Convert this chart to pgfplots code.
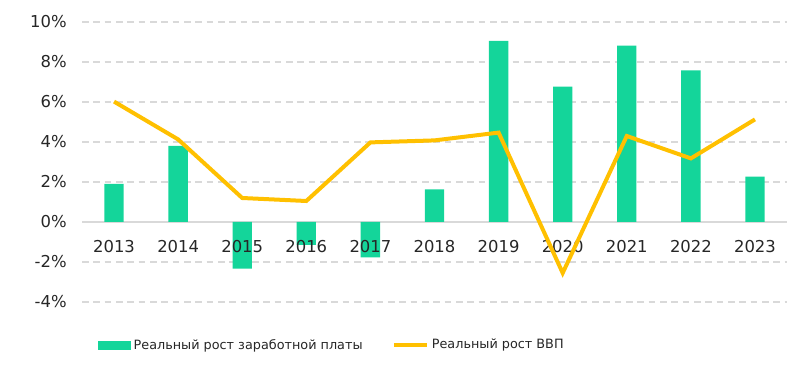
\documentclass[border=0pt]{standalone}
\usepackage{fontspec}
\setmainfont{DejaVu Sans}
\usepackage{pgfplots}
\pgfplotsset{compat=1.18}
\definecolor{barg}{RGB}{20,213,154}
\definecolor{lineg}{RGB}{255,192,0}
\definecolor{txt}{RGB}{38,38,38}
\definecolor{gridc}{RGB}{217,217,217}
\pgfplotsset{common/.style={
  at={(61.5pt,54.75pt)}, anchor=south west,
  scale only axis, width=528.75pt, height=210pt,
  xmin=-0.5, xmax=10.5, ymin=-4, ymax=10,
  axis x line*=middle, axis y line*=left,
  axis line style={draw=none},
  xtick={0,...,10},
  ytick={-4,-2,0,2,4,6,8,10},
  major tick length=0pt,
  clip=false,
}}
\begin{document}
\begin{tikzpicture}
\useasboundingbox (0,0) rectangle (600pt,281.25pt);
\begin{axis}[common,
  ymajorgrids,
  major grid style={gridc, dash pattern=on 5pt off 3.5pt, line width=1.1pt},
  xticklabels={}, yticklabels={},
]
\draw[gridc, line width=1.3pt] (axis cs:-0.5,0) -- (axis cs:10.5,0);
\addplot[ybar, bar width=14.5pt, fill=barg, draw=none]
  coordinates {(0,1.9) (1,3.8) (2,-2.33) (3,-1.15) (4,-1.77) (5,1.63) (6,9.05) (7,6.77) (8,8.82) (9,7.58) (10,2.27)};
\end{axis}
\begin{axis}[common,
  xticklabels={2013,2014,2015,2016,2017,2018,2019,2020,2021,2022,2023},
  yticklabel={\pgfmathprintnumber[assume math mode=true]{\tick}\%},
  ticklabel style={font=\fontsize{12.3}{14}\selectfont, text=txt},
  xticklabel style={yshift=-10pt},
  yticklabel style={xshift=-8pt},
  legend columns=2,
  legend style={at={(0.023,-0.154)}, anchor=west, draw=none, fill=none,
    font=\fontsize{9.6}{12}\selectfont, text=txt,
    /tikz/every even column/.append style={column sep=20pt},
    inner sep=0pt},
]
\addlegendimage{legend image code/.code={\fill[barg] (0pt,-3pt) rectangle (24pt,3pt);}}
\addlegendentry{Реальный рост заработной платы}
\addplot[lineg, line width=3pt, mark=none,
  legend image code/.code={\draw[lineg, line width=3pt] (0pt,0pt) -- (25pt,0pt);}]
  coordinates {(0,6.02) (1,4.13) (2,1.2) (3,1.05) (4,3.98) (5,4.08) (6,4.47) (7,-2.55) (8,4.3) (9,3.18) (10,5.13)};
\addlegendentry{Реальный рост ВВП}
\end{axis}
\end{tikzpicture}
\end{document}
